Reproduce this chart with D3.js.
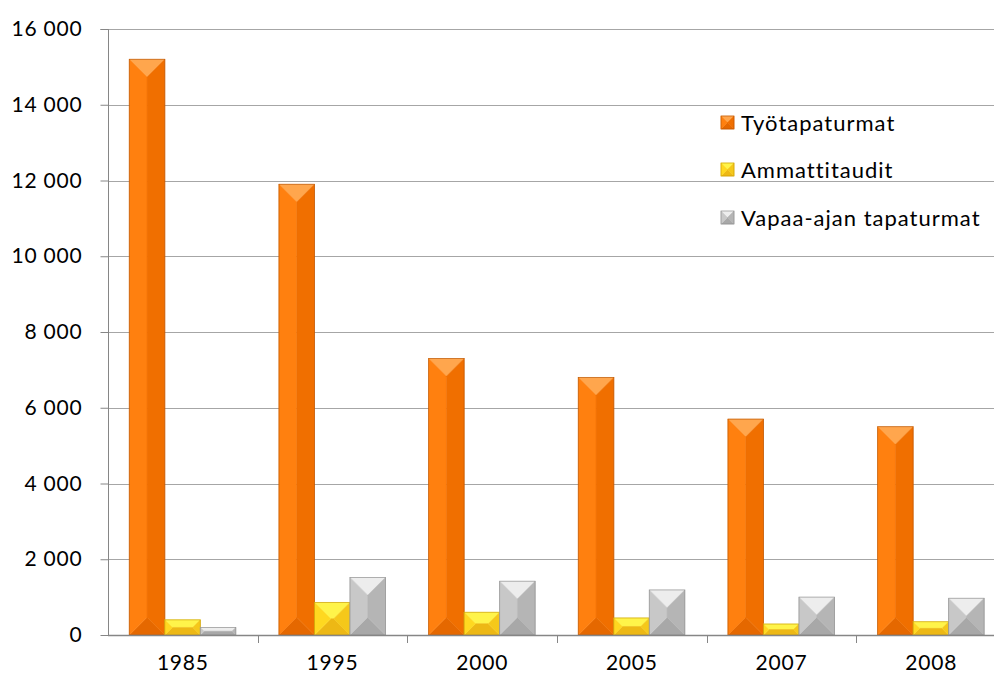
<!DOCTYPE html>
<html><head><meta charset="utf-8">
<script src="https://cdn.jsdelivr.net/npm/d3@7/dist/d3.min.js"></script>
<style>
body{margin:0;background:#fff;}
text{font-family:"Gill Sans","Gill Sans MT",Lato,"Open Sans",sans-serif;fill:#000;}
</style></head>
<body>
<svg id="chart" width="994" height="686"></svg>
<script>
const categories = ["1985","1995","2000","2005","2007","2008"];
const seriesNames = ["Työtapaturmat","Ammattitaudit","Vapaa-ajan tapaturmat"];
const tyotapaturmat = [15200, 11900, 7300, 6800, 5700, 5500];
const ammattitaudit = [400, 860, 600, 450, 290, 350];
const vapaaAjan = [200, 1520, 1420, 1190, 1000, 970];
const yTicks = [0,2000,4000,6000,8000,10000,12000,14000,16000];

const palettes = [
  {top:"#FFA64D", left:"#FF800F", right:"#F06F00", bottom:"#E56800", stroke:"#B85200"},
  {top:"#FFF44A", left:"#FFD820", right:"#F5C81A", bottom:"#EDB815", stroke:"#C89A00"},
  {top:"#EDEDED", left:"#C8C8C8", right:"#B5B5B5", bottom:"#A8A8A8", stroke:"#8A8A8A"}
];
const data = [tyotapaturmat, ammattitaudit, vapaaAjan];

const svg = d3.select("#chart");
const x0 = 108, x1 = 1006, yTop = 29, yBot = 635;
const x = d3.scaleBand().domain(categories).range([x0, x1]).paddingInner(0).paddingOuter(0);
const y = d3.scaleLinear().domain([0,16000]).range([yBot, yTop]);
const sub = d3.scaleBand().domain(d3.range(3)).range([21.3, 21.3 + 106.5]);

const fontFam = '"Gill Sans","Gill Sans MT",Lato,sans-serif';

// gridlines
svg.append("g").selectAll("line").data(yTicks.filter(t=>t>0)).join("line")
  .attr("x1", x0).attr("x2", 994).attr("y1", d=>Math.round(y(d))+0.5).attr("y2", d=>Math.round(y(d))+0.5)
  .attr("stroke", "#A6A6A6").attr("stroke-width", 1);

// y axis
const yAxis = d3.axisLeft(y).tickValues(yTicks).tickSize(8).tickPadding(18)
  .tickFormat(d => d === 0 ? "0" : d3.format(",")(d).replace(",", " "));
const gy = svg.append("g").attr("transform", `translate(${x0+0.5},0)`).call(yAxis);
gy.select(".domain").attr("stroke", "#868686").attr("d", `M-8,${yTop+0.5}H0V${yBot}`);
gy.selectAll(".tick line").attr("stroke", "#868686");
gy.selectAll(".tick text").attr("font-size", 21).attr("fill", "#000")
  .style("font-family", fontFam).style("letter-spacing", "0.8px");

// bars
function bevel(g, bx, by, w, h, p) {
  const xa = bx, xb = bx + w, ya = by, yb = by + h;
  const d = Math.min(w, h) / 2;
  const polys = [
    [[xa,ya],[xb,ya],[xb-d,ya+d],[xa+d,ya+d]],
    [[xa,yb],[xb,yb],[xb-d,yb-d],[xa+d,yb-d]],
    [[xa,ya],[xa+d,ya+d],[xa+d,yb-d],[xa,yb]],
    [[xb,ya],[xb-d,ya+d],[xb-d,yb-d],[xb,yb]]
  ];
  const fills = [p.top, p.bottom, p.left, p.right];
  polys.forEach((pts,i) => {
    g.append("polygon").attr("points", pts.map(q=>q.join(",")).join(" "))
      .attr("fill", fills[i]).attr("stroke", fills[i]).attr("stroke-width", 0.5);
  });
  g.append("rect").attr("x", xa).attr("y", ya).attr("width", w).attr("height", h)
    .attr("fill", "none").attr("stroke", p.stroke).attr("stroke-width", 0.8).attr("stroke-opacity", 0.8);
}

const barsG = svg.append("g");
data.forEach((vals, si) => {
  vals.forEach((v, ci) => {
    const bx = x(categories[ci]) + sub(si);
    const by = y(v);
    bevel(barsG.append("g"), bx, by, sub.bandwidth(), yBot - by, palettes[si]);
  });
});

// x axis
const xAxis = d3.axisBottom(x).tickSize(0).tickPadding(20);
const gx = svg.append("g").attr("transform", `translate(0,${yBot})`).call(xAxis);
gx.select(".domain").remove();
gx.append("line").attr("x1", x0).attr("x2", 994).attr("y1", 0.5).attr("y2", 0.5).attr("stroke", "#868686").attr("stroke-width", 1.5);
gx.selectAll(".tick text").attr("font-size", 21).attr("fill", "#000")
  .style("font-family", fontFam).style("letter-spacing", "0.8px");
gx.selectAll(".bt").data(categories.slice(1)).join("line")
  .attr("x1", d=>Math.round(x(d))+0.5).attr("x2", d=>Math.round(x(d))+0.5)
  .attr("y1", 0).attr("y2", 8).attr("stroke", "#868686");

// legend
const legend = svg.append("g");
const legY = [123, 170, 218];
seriesNames.forEach((name, i) => {
  bevel(legend.append("g"), 721, legY[i] - 7, 13, 13, palettes[i]);
  legend.append("text").attr("x", 741).attr("y", legY[i]).attr("dy", "0.35em")
    .attr("font-size", 22).style("letter-spacing", "1px").text(name);
});
</script>
</body></html>
